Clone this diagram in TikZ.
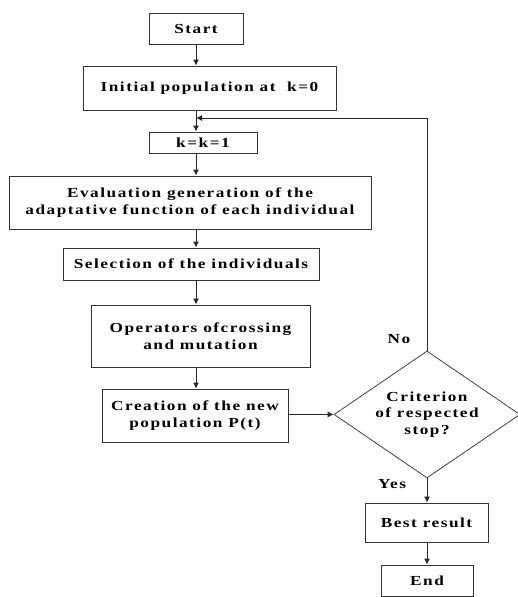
\documentclass[tikz,border=0pt]{standalone}
\usepackage{fontspec}
\setmainfont{Liberation Serif}[FakeStretch=1.25,LetterSpace=11]
\usetikzlibrary{shapes.geometric,arrows.meta}
\begin{document}
\begin{tikzpicture}[x=1pt,y=-1pt,
  every node/.style={font=\fontsize{13.8}{16.8}\selectfont\bfseries},
  box/.style={draw=black!80, line width=0.9pt, align=center, inner sep=0pt},
  dia/.style={draw=black!75, line width=0.8pt, shape=diamond, align=center, inner sep=0pt, aspect=1.46},
  arr/.style={draw=black!85, line width=0.9pt, -{Latex[length=6pt,width=6pt]}},
  lbl/.style={inner sep=0pt}]
\useasboundingbox (0,0) rectangle (517,597);
\node[box, minimum width=94pt, minimum height=31pt] (start) at (196,28.5) {Start};
\node[box, minimum width=253pt, minimum height=44pt] (init) at (209.5,88) {Initial population at\ \ k=0};
\node[box, minimum width=108pt, minimum height=21pt] (kk) at (203,142.5) {k=k=1};
\node[box, minimum width=362pt, minimum height=53pt] (eval) at (190,202.5) {Evaluation generation of the\\adaptative function of each individual};
\node[box, minimum width=256pt, minimum height=32pt] (sel) at (191,264) {Selection of the individuals};
\node[box, minimum width=219pt, minimum height=62pt] (ops) at (200.5,336) {Operators ofcrossing\\and mutation};
\node[box, minimum width=186pt, minimum height=53pt] (crea) at (195,415.5) {Creation of the new\\population P(t)};
\node[dia, minimum width=186pt, minimum height=127pt] (crit) at (427,414.5) {Criterion\\of respected\\stop?};
\node[box, minimum width=123pt, minimum height=39pt] (best) at (426.5,522.5) {Best result};
\node[box, minimum width=92pt, minimum height=31pt] (end) at (427,580.5) {End};
\node[lbl] (no) at (399,339) {No};
\node[lbl] (yes) at (392,484) {Yes};
\coordinate (fb) at (196,118);
\draw[arr] (start.south -| fb) -- (init.north -| fb);
\draw[arr] (init.south -| fb) -- (kk.north -| fb);
\draw[arr] (kk.south -| fb) -- (eval.north -| fb);
\draw[arr] (eval.south -| fb) -- (sel.north -| fb);
\draw[arr] (sel.south -| fb) -- (ops.north -| fb);
\draw[arr] (ops.south -| fb) -- (crea.north -| fb);
\draw[arr] (crea.east |- crit.west) -- (crit.west);
\draw[arr] (crit.north) |- (fb);
\draw[arr] (crit.south) -- (best.north -| crit.south);
\draw[arr] (best.south -| crit.south) -- (end.north -| crit.south);
\end{tikzpicture}
\end{document}
